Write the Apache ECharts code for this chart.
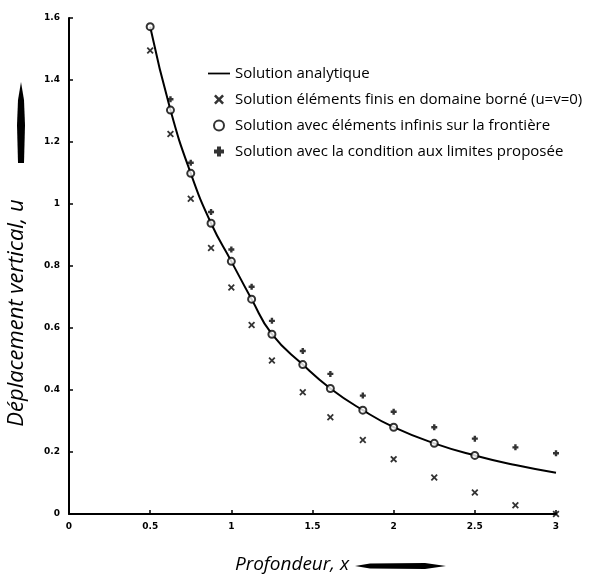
<!DOCTYPE html>
<html>
<head>
<meta charset="utf-8">
<script src="https://cdn.jsdelivr.net/npm/echarts@6/dist/echarts.min.js"></script>
<style>
    html, body { margin: 0; padding: 0; background: #fff; }
    #main { width: 589px; height: 575px; }
</style>
</head>
<body>
<div id="main"></div>
<script>
// profondeurs des noeuds (x)
const xNodes = [0.5, 0.625, 0.75, 0.875, 1, 1.125, 1.25, 1.44, 1.61, 1.81, 2, 2.25, 2.5, 2.75, 3]

// valeurs
const analytique = [1.572, 1.303, 1.099, 0.938, 0.815, 0.693, 0.580, 0.482, 0.405, 0.335, 0.280, 0.228, 0.189, 0.158, 0.133]
const borne = [1.495, 1.226, 1.017, 0.858, 0.731, 0.610, 0.495, 0.393, 0.312, 0.239, 0.177, 0.118, 0.069, 0.028, 0]
const infinis = [1.572, 1.303, 1.099, 0.938, 0.815, 0.693, 0.580, 0.482, 0.405, 0.335, 0.280, 0.228, 0.189]
const propose = [1.610, 1.338, 1.133, 0.974, 0.853, 0.733, 0.623, 0.526, 0.452, 0.382, 0.330, 0.280, 0.243, 0.215, 0.196]

const legendNames = [
    'Solution analytique',
    'Solution éléments finis en domaine borné (u=v=0)',
    'Solution avec éléments infinis sur la frontière',
    'Solution avec la condition aux limites proposée'
]

// symboles x et + en traits gras
const xSymbol = 'path://M1.8,0 L5,3.2 L8.2,0 L10,1.8 L6.8,5 L10,8.2 L8.2,10 L5,6.8 L1.8,10 L0,8.2 L3.2,5 L0,1.8 Z'
const plusSymbol = 'path://M3,0 H7 V3 H10 V7 H7 V10 H3 V7 H0 V3 H3 Z'
const lineIcon = 'path://M0,0 H20 V1.6 H0 Z'

function pairs(values) {
    return values.map((v, i) => [xNodes[i], v])
}

function initChart() {
    let myChart = echarts.init(document.querySelector('#main'))

    const option = {
        backgroundColor: '#fff',
        animation: false,
        grid: {
            left: 69,
            right: 33,
            top: 18,
            bottom: 61
        },
        legend: {
            orient: 'vertical',
            left: 203,
            top: 61,
            itemWidth: 22,
            itemHeight: 10,
            itemGap: 11,
            data: [
                { name: legendNames[0], icon: lineIcon },
                { name: legendNames[1] },
                { name: legendNames[2] },
                { name: legendNames[3] }
            ],
            textStyle: {
                color: '#000',
                fontSize: 15,
                fontFamily: 'Open Sans'
            }
        },
        xAxis: {
            type: 'value',
            min: 0,
            max: 3,
            interval: 0.5,
            splitLine: { show: false },
            axisLine: { lineStyle: { color: '#000', width: 2 } },
            axisTick: { inside: true, length: 4, lineStyle: { color: '#000', width: 1.5 } },
            axisLabel: { color: '#000', fontSize: 9, fontWeight: 'bold', fontFamily: 'DejaVu Sans', margin: 8 }
        },
        yAxis: {
            type: 'value',
            min: 0,
            max: 1.6,
            interval: 0.2,
            splitLine: { show: false },
            axisLine: { show: true, lineStyle: { color: '#000', width: 2 } },
            axisTick: { show: true, inside: true, length: 4, lineStyle: { color: '#000', width: 1.5 } },
            axisLabel: { color: '#000', fontSize: 9, fontWeight: 'bold', fontFamily: 'DejaVu Sans', margin: 9 }
        },
        graphic: [
            {
                type: 'text',
                x: 17,
                y: 313,
                rotation: Math.PI / 2,
                style: {
                    text: 'Déplacement vertical, u',
                    fill: '#000',
                    font: 'italic 22px "Open Sans"',
                    textAlign: 'center',
                    textVerticalAlign: 'middle'
                }
            },
            {
                type: 'polygon',
                shape: { points: [[21, 82], [24, 100], [25, 125], [24, 163], [18, 163], [17, 125], [18, 100]] },
                style: { fill: '#000' }
            },
            {
                type: 'text',
                x: 292,
                y: 565,
                style: {
                    text: 'Profondeur, x',
                    fill: '#000',
                    font: 'italic 19px "Open Sans"',
                    textAlign: 'center',
                    textVerticalAlign: 'middle'
                }
            },
            {
                type: 'polygon',
                shape: { points: [[355, 566], [370, 563.5], [425, 563], [446, 566], [425, 569], [370, 568.5]] },
                style: { fill: '#000' }
            }
        ],
        series: [
            {
                name: legendNames[0],
                type: 'line',
                data: pairs(analytique),
                smooth: 0.5,
                symbol: 'none',
                lineStyle: { color: '#000', width: 2 },
                itemStyle: { color: '#000' },
                z: 1
            },
            {
                name: legendNames[1],
                type: 'scatter',
                data: pairs(borne),
                symbol: xSymbol,
                symbolSize: 7,
                itemStyle: { color: '#000' },
                z: 3
            },
            {
                name: legendNames[2],
                type: 'scatter',
                data: pairs(infinis),
                symbol: 'emptyCircle',
                symbolSize: 7,
                itemStyle: { color: '#000', borderColor: '#000', borderWidth: 2 },
                z: 3
            },
            {
                name: legendNames[3],
                type: 'scatter',
                data: pairs(propose),
                symbol: plusSymbol,
                symbolSize: 6,
                itemStyle: { color: '#000' },
                z: 3
            }
        ]
    }

    myChart.setOption(option)
}
initChart()
</script>
</body>
</html>
